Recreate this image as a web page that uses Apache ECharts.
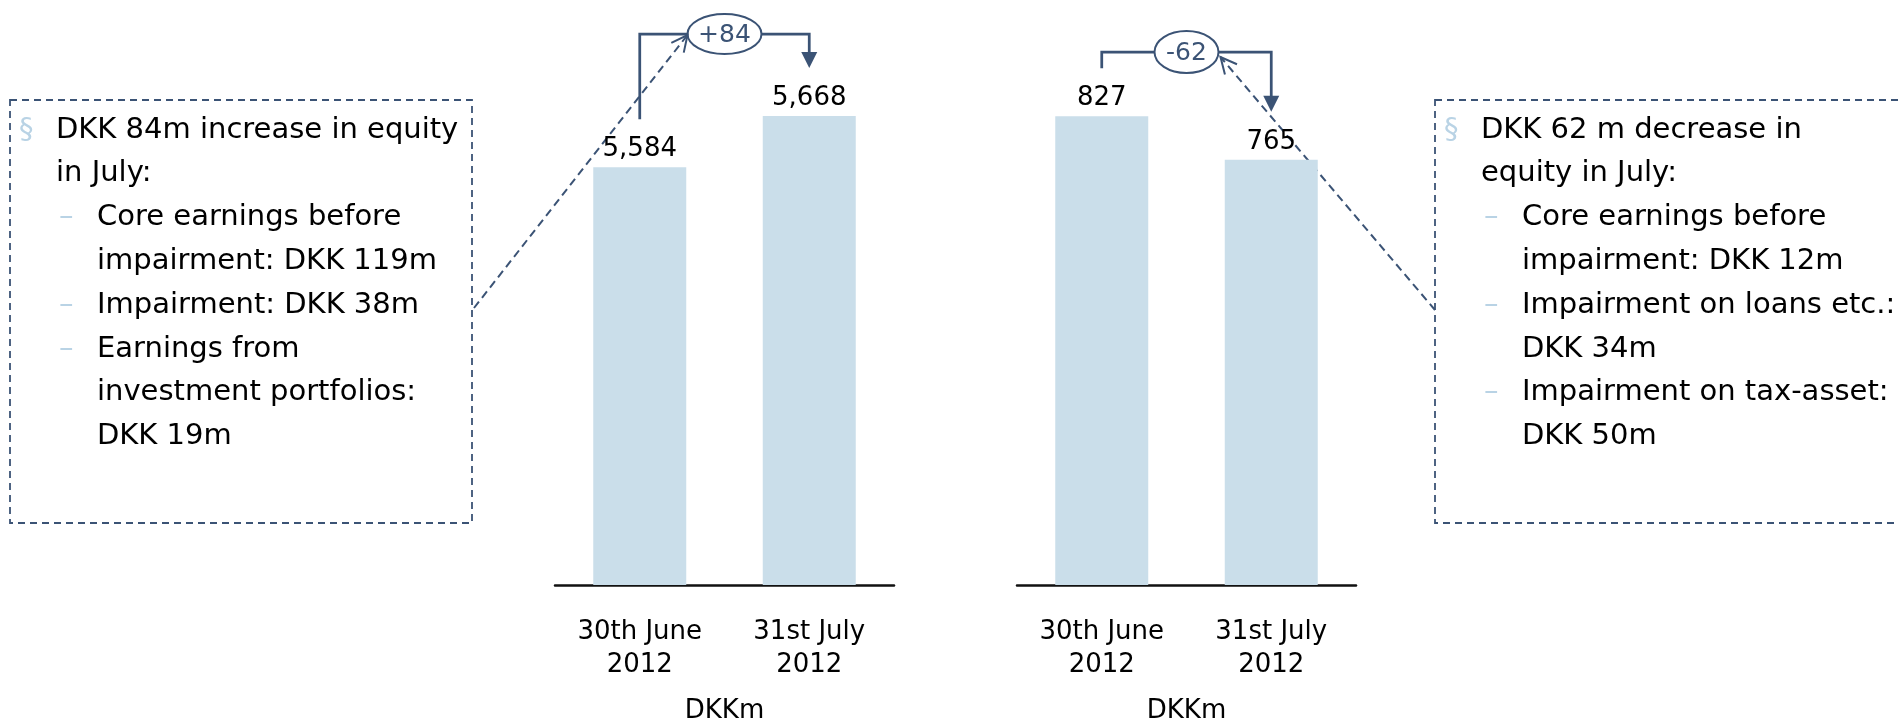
<!DOCTYPE html>
<html>
<head>
<meta charset="utf-8">
<script src="https://cdn.jsdelivr.net/npm/echarts@6/dist/echarts.min.js"></script>
<style>
  html, body { margin: 0; padding: 0; background: #fff; }
  #main { width: 1899px; height: 722px; }
</style>
</head>
<body>
<div id="main"></div>
<script>
// categories + values
const categories = ["30th June\n2012", "31st July\n2012"];
const equityLeft = [5584, 5668];
const equityRight = [827, 765];
const unitName = "DKKm";

// text in the two dashed boxes
const leftHeadline = ["DKK 84m increase in equity", "in July:"];
const leftPoints = [
  ["Core earnings before", "impairment: DKK 119m"],
  ["Impairment: DKK 38m"],
  ["Earnings from", "investment portfolios:", "DKK 19m"]
];
const rightHeadline = ["DKK 62 m decrease in", "equity in July:"];
const rightPoints = [
  ["Core earnings before", "impairment: DKK 12m"],
  ["Impairment on loans etc.:", "DKK 34m"],
  ["Impairment on tax-asset:", "DKK 50m"]
];

const DARK = "#3b5375";
const BAR = "#cadeea";
const BULLET = "#b9d3e5";
const FONT = '"DejaVu Sans", Verdana, sans-serif';

const fmt = (v) => String(v).replace(/\B(?=(\d{3})+(?!\d))/g, ",");

const chart = echarts.init(document.getElementById("main"));

// both charts share same look, only the grid & range differ
const makeX = (gridIndex) => ({
  type: "category",
  gridIndex: gridIndex,
  data: categories,
  axisLine: { lineStyle: { color: "#111", width: 2.5 } },
  axisTick: { show: false },
  axisLabel: {
    color: "#000",
    fontFamily: FONT,
    fontSize: 26,
    lineHeight: 33,
    margin: 31,
    interval: 0
  },
  name: unitName,
  nameLocation: "middle",
  nameGap: 113,
  nameTextStyle: { color: "#000", fontFamily: FONT, fontSize: 26 }
});
const makeY = (gridIndex, min, max) => ({
  type: "value",
  gridIndex: gridIndex,
  min: min,
  max: max,
  show: false,
  splitLine: { show: false }
});
const makeBar = (idx, data) => ({
  type: "bar",
  xAxisIndex: idx,
  yAxisIndex: idx,
  data: data,
  barWidth: 93,
  itemStyle: { color: BAR },
  label: {
    show: true,
    position: "top",
    distance: 5,
    color: "#000",
    fontFamily: FONT,
    fontSize: 26,
    formatter: (p) => fmt(p.value)
  },
  silent: true,
  animation: false
});

const option = {
  animation: false,
  grid: [
    { left: 555, width: 339, top: 96.4, bottom: 137, outerBoundsMode: "none" },
    { left: 1017, width: 339, top: 93.1, bottom: 137, outerBoundsMode: "none" }
  ],
  xAxis: [makeX(0), makeX(1)],
  yAxis: [makeY(0, 4900, 5700), makeY(1, 160, 860)],
  series: [makeBar(0, equityLeft), makeBar(1, equityRight)]
};
chart.setOption(option);

// ---- annotations: dashed boxes, notes, change brackets and connectors ----
const boxes = [
  { x: 10, y: 100, w: 462, h: 423, headline: leftHeadline, points: leftPoints },
  { x: 1435, y: 100, w: 480, h: 423, headline: rightHeadline, points: rightPoints }
];
const bracketLevel = [34, 52];
const ellipseRx = [37, 32];
const ellipseRy = [20, 21];

const g = [];
const line = (pts, extra) =>
  g.push(Object.assign({
    type: "polyline",
    shape: { points: pts },
    style: { fill: "none", stroke: DARK, lineWidth: 2.75 },
    silent: true
  }, extra || {}));
const text = (x, y, s, font, color, align) =>
  g.push({
    type: "text",
    x: x,
    y: y,
    silent: true,
    style: {
      text: s,
      font: font,
      fill: color,
      align: align || "left",
      verticalAlign: "middle"
    }
  });

boxes.forEach((b) => {
  g.push({
    type: "rect",
    shape: { x: b.x, y: b.y, width: b.w, height: b.h },
    style: { fill: "none", stroke: DARK, lineWidth: 1.8, lineDash: [7, 5] },
    silent: true
  });
  const lh = 43.8;
  let row = 0;
  const y0 = 130;
  text(b.x + 9, y0, "\u00a7", "29px " + FONT, BULLET);
  b.headline.forEach((t) => {
    text(b.x + 46, y0 + row * lh, t, "29px " + FONT, "#000");
    row++;
  });
  b.points.forEach((pt) => {
    text(b.x + 49, y0 + row * lh, "\u2013", "29px " + FONT, BULLET);
    pt.forEach((t) => {
      text(b.x + 87, y0 + row * lh, t, "29px " + FONT, "#000");
      row++;
    });
  });
});

[equityLeft, equityRight].forEach((vals, i) => {
  const a = chart.convertToPixel({ seriesIndex: i }, [0, vals[0]]);
  const b = chart.convertToPixel({ seriesIndex: i }, [1, vals[1]]);
  const lvl = bracketLevel[i];
  const rx = ellipseRx[i];
  const ry = ellipseRy[i];
  const xm = (a[0] + b[0]) / 2;
  const ya = a[1] - 48;
  const yb = b[1] - 48;

  line([[a[0], ya], [a[0], lvl], [xm - rx, lvl]]);
  line([[xm + rx, lvl], [b[0], lvl], [b[0], yb - 14]]);
  g.push({
    type: "polygon",
    shape: { points: [[b[0] - 8, yb - 16], [b[0] + 8, yb - 16], [b[0], yb]] },
    style: { fill: DARK },
    silent: true
  });
  g.push({
    type: "ellipse",
    shape: { cx: xm, cy: lvl, rx: rx, ry: ry },
    style: { fill: "#fff", stroke: DARK, lineWidth: 2 },
    silent: true
  });
  const diff = vals[1] - vals[0];
  text(xm, lvl + 1, (diff > 0 ? "+" : "-") + Math.abs(diff), "25px " + FONT, DARK, "center");

  // dashed connector from note box to bubble, open arrow at bubble end
  const from = i === 0 ? [boxes[0].x + boxes[0].w + 2, 308] : [boxes[1].x, 310];
  const to = i === 0 ? [xm - rx, lvl + 1] : [xm + rx + 2, lvl + 5];
  line([from, to], { style: { fill: "none", stroke: DARK, lineWidth: 2, lineDash: [8, 5] } });
  const ang = Math.atan2(from[1] - to[1], from[0] - to[0]);
  const len = 18;
  const d = 26 * Math.PI / 180;
  line([
    [to[0] + len * Math.cos(ang + d), to[1] + len * Math.sin(ang + d)],
    to,
    [to[0] + len * Math.cos(ang - d), to[1] + len * Math.sin(ang - d)]
  ], { style: { fill: "none", stroke: DARK, lineWidth: 2 } });
});

chart.setOption({ graphic: { elements: g } });
</script>
</body>
</html>
